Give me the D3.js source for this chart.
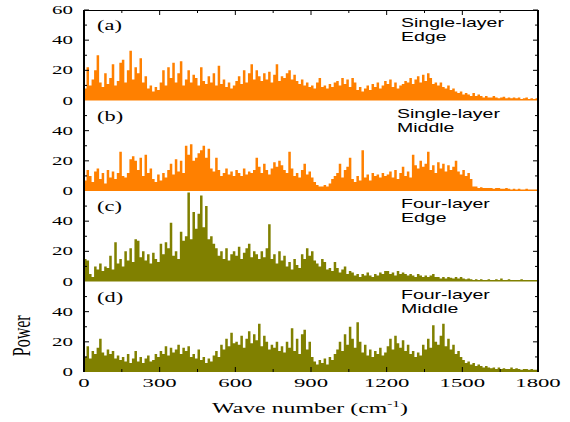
<!DOCTYPE html>
<html>
<head>
<meta charset="utf-8">
<script src="https://cdn.jsdelivr.net/npm/d3@7/dist/d3.min.js"></script>
<style>
  body { margin: 0; background: #fff; }
</style>
</head>
<body>
<div id="chart"></div>
<script>
// spectra binned every 10 cm^-1, from 0 to 1790
const binWidth = 10;

const singleEdge = [
  8, 22, 10, 14, 20, 30, 12, 9, 18, 11,
  15, 24, 10, 13, 25, 27, 12, 20, 33, 14,
  22, 18, 28, 12, 16, 8, 10, 6, 9, 7,
  12, 20, 10, 22, 15, 25, 12, 18, 26, 10,
  14, 20, 12, 17, 15, 10, 22, 13, 11, 16,
  12, 18, 10, 23, 11, 14, 9, 12, 8, 10,
  13, 16, 11, 20, 12, 18, 24, 14, 20, 16,
  13, 18, 14, 19, 12, 17, 24, 13, 16, 15,
  18, 20, 14, 17, 13, 11, 14, 10, 12, 9,
  10, 8, 12, 15, 9, 10, 8, 11, 9, 12,
  13, 10, 15, 11, 14, 9, 15, 12, 7, 9,
  6, 8, 10, 7, 11, 9, 12, 8, 10, 13,
  11, 14, 9, 12, 8, 10, 11, 13, 12, 15,
  11, 14, 16, 12, 17, 13, 18, 15, 11, 12,
  10, 12, 9, 8, 10, 7, 8, 6, 5, 6,
  4, 5, 4, 3, 5, 3, 4, 3, 2, 3,
  2, 2, 3, 2, 1.5, 2, 2.5, 1.5, 2, 1.5,
  2, 1.5, 2, 1, 1.5, 2, 1, 1.5, 1, 1.5
];

const singleMiddle = [
  7, 14, 10, 6, 13, 15, 8, 12, 5, 14,
  9, 13, 8, 12, 26, 10, 9, 12, 21, 23,
  20, 14, 22, 10, 24, 12, 15, 8, 6, 11,
  7, 12, 9, 14, 18, 11, 21, 13, 20, 12,
  30, 24, 31, 20, 22, 25, 27, 30, 22, 28,
  15, 13, 22, 14, 10, 12, 15, 11, 13, 10,
  14, 12, 10, 15, 11, 13, 12, 14, 22, 16,
  12, 18, 14, 11, 15, 19, 16, 20, 17, 14,
  12, 26, 15, 10, 12, 9, 14, 18, 11, 13,
  9, 6, 4, 3, 3, 4, 3, 5, 8, 10,
  12, 18, 9, 14, 16, 22, 8, 6, 10, 7,
  27, 9, 11, 7, 12, 10, 11, 9, 12, 10,
  11, 13, 9, 14, 8, 12, 16, 10, 13, 9,
  24, 17, 15, 20, 16, 18, 26, 14, 17, 12,
  19, 15, 18, 13, 17, 14, 16, 20, 13, 11,
  14, 10, 12, 8, 3, 3, 2, 2.5, 2, 2,
  2, 2, 1.5, 2, 2, 1.5, 1.5, 2, 1.5, 1,
  1.5, 1, 1.5, 1, 1, 1.5, 1, 1, 1, 1
];

const fourEdge = [
  15, 14, 5, 3, 10, 8, 12, 7, 10, 9,
  17, 8, 26, 12, 15, 10, 20, 14, 22, 13,
  28, 27, 16, 20, 14, 18, 12, 19, 15, 13,
  25, 18, 26, 22, 39, 17, 20, 15, 33, 27,
  30, 59, 28, 46, 35, 45, 57, 36, 50, 28,
  30, 25, 22, 17, 20, 15, 22, 14, 18, 20,
  17, 23, 15, 19, 22, 25, 16, 20, 18, 15,
  20, 16, 22, 38, 15, 18, 12, 20, 14, 17,
  10, 13, 8, 15, 11, 9, 18, 15, 22, 17,
  20, 14, 12, 10, 15, 13, 8, 9, 7, 13,
  9, 6, 8, 10, 5, 7, 6, 4, 5, 3,
  5, 4, 6, 4, 3, 5, 4, 6, 5, 7,
  7, 5, 6, 4, 7, 5, 6, 5, 4, 5,
  4, 3, 5, 4, 3, 4, 3, 4, 5, 3,
  3, 2, 3, 2, 3, 2.5, 2, 3, 2, 3,
  2, 1.5, 2, 1.5, 1, 1.5, 1, 1.5, 1, 1,
  1.5, 1, 1, 1.5, 1, 2, 1, 1, 1.5, 1,
  1, 1, 1, 1.5, 1, 1, 1, 1, 1, 1
];

const fourMiddle = [
  10, 17, 9, 14, 12, 16, 22, 13, 11, 15,
  12, 14, 9, 11, 8, 10, 7, 12, 6, 9,
  14, 7, 10, 6, 9, 11, 7, 8, 12, 10,
  14, 12, 17, 11, 16, 13, 15, 18, 12, 16,
  14, 17, 10, 12, 9, 15, 8, 10, 6, 9,
  7, 11, 14, 10, 18, 15, 22, 17, 26, 19,
  20, 18, 24, 16, 22, 27, 19, 25, 21, 32,
  17, 24, 20, 15, 18, 16, 20, 14, 17, 13,
  20, 16, 29, 14, 22, 12, 25, 28, 15, 20,
  10, 7, 5, 8, 6, 9, 5, 10, 8, 12,
  15, 20, 14, 25, 18, 30, 22, 16, 33, 20,
  13, 18, 11, 15, 10, 14, 12, 16, 11, 13,
  17, 22, 15, 24, 19, 16, 21, 14, 18, 12,
  14, 10, 13, 11, 18, 15, 22, 16, 31, 20,
  18, 24, 32, 17, 22, 15, 18, 12, 14, 10,
  8, 6, 7, 5, 6, 4, 5, 4, 3, 4,
  3, 2.5, 3, 2, 3, 2, 2.5, 2, 2, 3,
  2, 2.5, 2, 1.5, 2, 2, 1.5, 2, 1.5, 1.5
];

const panelLetters = ["(a)", "(b)", "(c)", "(d)"];
const panelNotes = [
  ["Single-layer", "Edge"],
  ["Single-layer", "Middle"],
  ["Four-layer", "Edge"],
  ["Four-layer", "Middle"]
];
const xTickValues = [0, 300, 600, 900, 1200, 1500, 1800];
const xMinorValues = [150, 450, 750, 1050, 1350, 1650];
const yTickValues = [0, 20, 40];
const yTopTickValues = [0, 20, 40, 60];
const yMinorValues = [10, 30, 50];

const panels = [singleEdge, singleMiddle, fourEdge, fourMiddle];
const panelColors = ["#ff8000", "#ff8000", "#808000", "#808000"];

const width = 570, height = 422;
const margin = { top: 10, right: 32, bottom: 50, left: 84 };
const panelH = (height - margin.top - margin.bottom) / panels.length;
const stretch = 1.75; // the original picture is wider than tall

const svg = d3.select("#chart").append("svg")
  .attr("width", width).attr("height", height)
  .style("font-family", "'Liberation Serif', 'Times New Roman', serif");

const x = d3.scaleLinear().domain([0, 1800]).range([margin.left, width - margin.right]);

// text helper: wide glyphs like the reference
function wideText(g, px, py, str, sx, sy) {
  return g.append("text")
    .attr("transform", `translate(${px},${py}) scale(${sx},${sy || 1})`)
    .text(str);
}

panels.forEach((vals, p) => {
  const top = margin.top + p * panelH;
  const y = d3.scaleLinear().domain([0, 60]).range([top + panelH, top]);
  const g = svg.append("g");

  // step outline of the binned spectrum
  const pts = vals.map((v, i) => [i * binWidth, v]);
  pts.push([1800, vals[vals.length - 1]]);
  const area = d3.area()
    .x(d => x(d[0]))
    .y0(y(0))
    .y1(d => y(d[1]))
    .curve(d3.curveStepAfter);
  g.append("path")
    .attr("d", area(pts))
    .attr("fill", panelColors[p]);

  // ticks on both sides, pointing inward
  const majors = p === 0 ? yTopTickValues : yTickValues;
  [[x(0), 1], [x(1800), -1]].forEach(([ax, dir]) => {
    g.selectAll(null).data(majors.filter(v => v > 0)).join("line")
      .attr("x1", ax).attr("x2", ax + dir * 5)
      .attr("y1", d => y(d)).attr("y2", d => y(d))
      .attr("stroke", "#000").attr("stroke-width", 1);
    g.selectAll(null).data(yMinorValues).join("line")
      .attr("x1", ax).attr("x2", ax + dir * 3)
      .attr("y1", d => y(d)).attr("y2", d => y(d))
      .attr("stroke", "#000").attr("stroke-width", 1);
  });

  majors.forEach(v => {
    wideText(g, x(0) - 11, y(v) + 4, String(v), stretch)
      .attr("text-anchor", "end")
      .attr("font-size", 12);
  });

  wideText(g, 97, top + 20, panelLetters[p], 1.6)
    .attr("font-size", 14);

  panelNotes[p].forEach((line, k) => {
    wideText(g, p === 1 ? 397 : 401, top + 17 + k * 14, line, 1.5)
      .attr("font-family", "'Liberation Sans', Arial, sans-serif")
      .attr("font-size", 13);
  });
});

// frame
const plotBottom = margin.top + panelH * panels.length;
svg.append("line")
  .attr("x1", x(0)).attr("x2", x(1800))
  .attr("y1", margin.top + 0.5).attr("y2", margin.top + 0.5)
  .attr("stroke", "#000").attr("stroke-width", 1);
[x(0), x(1800)].forEach(ax => {
  svg.append("line")
    .attr("x1", ax).attr("x2", ax)
    .attr("y1", margin.top).attr("y2", plotBottom)
    .attr("stroke", "#000").attr("stroke-width", 2);
});

// x ticks at top and bottom
[[margin.top, 1], [plotBottom, -1]].forEach(([ay, dir]) => {
  svg.append("g").selectAll("line").data(xTickValues.slice(1, -1)).join("line")
    .attr("x1", d => x(d)).attr("x2", d => x(d))
    .attr("y1", ay).attr("y2", ay + dir * 5)
    .attr("stroke", "#000");
  svg.append("g").selectAll("line").data(xMinorValues).join("line")
    .attr("x1", d => x(d)).attr("x2", d => x(d))
    .attr("y1", ay).attr("y2", ay + dir * 3)
    .attr("stroke", "#000");
});

xTickValues.forEach(v => {
  wideText(svg, x(v), plotBottom + 15, String(v), stretch)
    .attr("text-anchor", "middle")
    .attr("font-size", 13);
});

// axis titles
const xt = svg.append("text")
  .attr("transform", `translate(${x(900) - 1},${plotBottom + 41}) scale(1.7,1)`)
  .attr("text-anchor", "middle")
  .attr("font-size", 14);
xt.append("tspan").text("Wave number (cm");
xt.append("tspan").attr("font-size", 9).attr("dy", -6).text("-1");
xt.append("tspan").attr("dy", 6).text(")");

svg.append("text")
  .attr("transform", `translate(30,${margin.top + panelH * 3.6}) rotate(-90) scale(1,1.6)`)
  .attr("text-anchor", "middle")
  .attr("font-size", 16)
  .text("Power");
</script>
</body>
</html>
